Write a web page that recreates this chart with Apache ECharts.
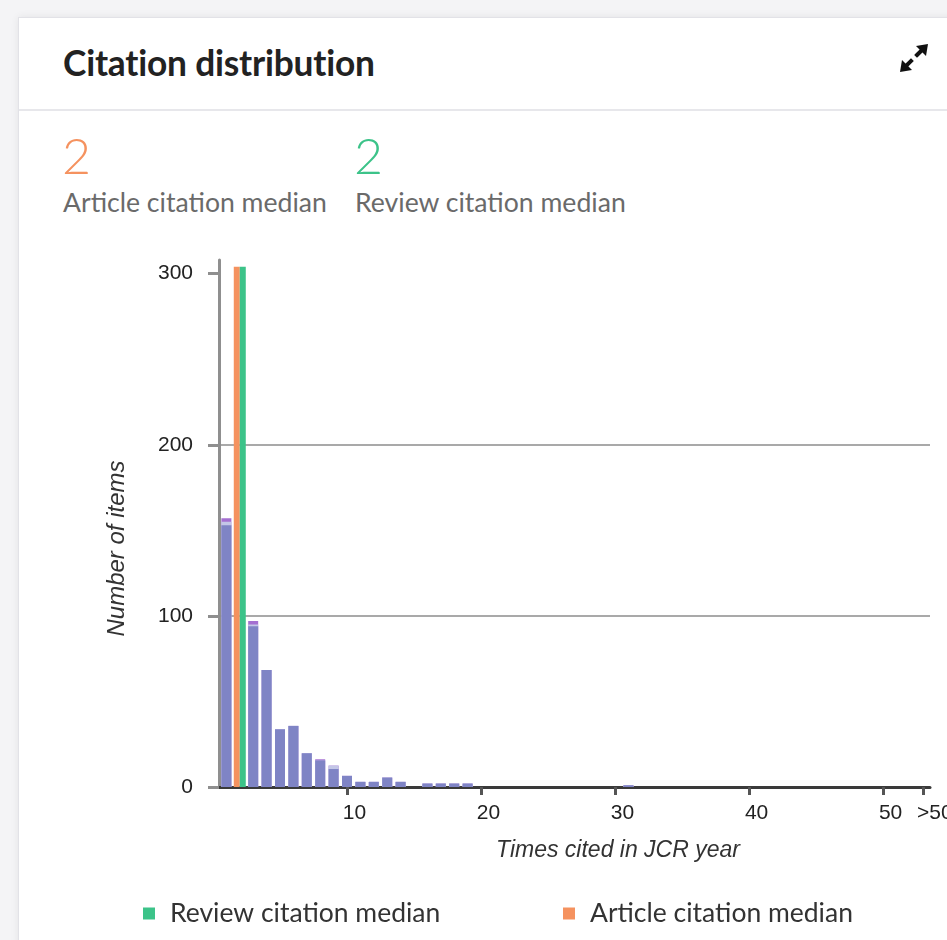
<!DOCTYPE html>
<html>
<head>
<meta charset="utf-8">
<script src="https://cdn.jsdelivr.net/npm/echarts@6/dist/echarts.min.js"></script>
<style>
html,body{margin:0;padding:0;width:947px;height:940px;overflow:hidden;background:#f4f4f6;font-family:Lato,"Open Sans",sans-serif;}
#card{position:absolute;left:18px;top:17px;width:1000px;height:1000px;background:#fff;border:1px solid #e2e2e7;box-shadow:0 0 8px rgba(0,0,0,0.07);}
#divider{position:absolute;left:19px;top:109px;width:1000px;height:2px;background:#e7e7eb;}
.t{position:absolute;white-space:nowrap;line-height:1;}
#title{left:63px;top:45px;font-size:35.3px;font-weight:700;color:#222;letter-spacing:-0.2px;}
.num{top:130px;font-size:50px;font-weight:300;}
#numA{left:62px;color:#f5925f;}
#numR{left:354px;color:#3cc389;}
.lab{top:189px;font-size:26.6px;color:#6a6a6a;}
#labA{left:63px;}
#labR{left:355px;}
#icon{position:absolute;left:894px;top:38px;width:40px;height:40px;}
#chart{position:absolute;left:0;top:0;width:947px;height:940px;}
</style>
</head>
<body>
<div id="card"></div>
<div id="divider"></div>
<div class="t" id="title">Citation distribution</div>
<div class="t num" id="numA">2</div>
<div class="t num" id="numR">2</div>
<div class="t lab" id="labA">Article citation median</div>
<div class="t lab" id="labR">Review citation median</div>
<svg id="icon" viewBox="0 0 40 40">
  <path d="M22 8 L34 6 L32 18 Z" fill="#111"/>
  <path d="M18 32 L6 34 L8 22 Z" fill="#111"/>
  <path d="M30 10 L23 17 M10 30 L17 23" stroke="#111" stroke-width="4" stroke-linecap="square"/>
</svg>
<div id="chart"></div>
<script>
// Times cited in JCR year: 1 .. 50
const timesCited = [1,2,3,4,5,6,7,8,9,10,11,12,13,14,15,16,17,18,19,20,21,22,23,24,25,26,27,28,29,30,31,32,33,34,35,36,37,38,39,40,41,42,43,44,45,46,47,48,49,50];
const articleCounts = [153,null,94,68.4,33.7,35.7,19.7,15.5,10.5,6.5,3,3,5.5,3,0,2,2,2,2,0,0,0,0,0,0,0,0,0,0,0,1,0,0,0,0,0,0,0,0,0,0,0,0,0,0,0,0,0,0,0];
const otherCounts   = [2,null,1,0,0,0,0,0,2,0,0,0,0,0,0,0,0,0,0,0,0,0,0,0,0,0,0,0,0,0,0,0,0,0,0,0,0,0,0,0,0,0,0,0,0,0,0,0,0,0];
const reviewCounts  = [2,null,2,0,0,0,0,0.7,0,0,0,0,0,0,0,0,0,0,0,0,0,0,0,0,0,0,0,0,0,0,0,0,0,0,0,0,0,0,0,0,0,0,0,0,0,0,0,0,0];
const articleMedian = 2;
const reviewMedian = 2;
const medianBarTop = 304;
const xTickValues = [10,20,30,40,50,53];
const xTickLabels = ['10','20','30','40','50','>50'];
const yTickValues = [0,100,200,300];
const gridLineValues = [100,200];

// cumulative tops so the three parts overlap as one stacked bar
const sumAt = (arrs, i) => arrs[0][i] == null ? null : arrs.reduce((s, a) => s + (a[i] || 0), 0);
const pairsOf = arrs => timesCited.map((c, i) => [c, sumAt(arrs, i)]);

const chart = echarts.init(document.getElementById('chart'));
const tickFont = 'Liberation Sans, Arial, sans-serif';
const hiddenX = {type:'value', min:0.45, max:53.5, show:false};
const legendText = {fontSize:26.5, color:'#333', fontFamily:'Lato, sans-serif', padding:[0,0,0,10]};
chart.setOption({
  animation:false,
  grid:{left:219, right:17, top:260, bottom:153, containLabel:false, outerBoundsMode:'none'},
  legend:[
    {data:['Review citation median'], left:143, top:900, padding:0, icon:'rect', itemWidth:12, itemHeight:12, selectedMode:false, textStyle:legendText},
    {data:['Article citation median'], left:563, top:900, padding:0, icon:'rect', itemWidth:12, itemHeight:12, selectedMode:false, textStyle:legendText}
  ],
  xAxis:[{
    type:'value', min:0.45, max:53.5,
    axisLine:{show:true, lineStyle:{color:'#3a3a3a', width:3}},
    axisTick:{show:true, customValues:xTickValues, length:8, lineStyle:{color:'#555', width:3}},
    axisLabel:{customValues:xTickValues,
      formatter:v => { const s = xTickLabels[xTickValues.indexOf(v)]; return s === '>50' ? '{gt|' + s + '}' : s; },
      rich:{gt:{fontSize:21, color:'#222', fontFamily:tickFont, padding:[0,0,0,8]}},
      margin:16, padding:[0,0,0,15], fontSize:21, color:'#222', fontFamily:tickFont},
    splitLine:{show:false},
    name:'Times cited in JCR year', nameLocation:'middle', nameGap:52,
    nameTextStyle:{fontStyle:'italic', fontSize:23, color:'#333', fontFamily:tickFont, padding:[0,0,0,87]}
  }, hiddenX],
  yAxis:{
    type:'value', min:0, max:308, interval:100,
    axisLine:{show:true, lineStyle:{color:'#8f8f8f', width:3}},
    axisTick:{show:true, customValues:yTickValues, length:11, lineStyle:{color:'#8f8f8f', width:3}},
    axisLabel:{customValues:yTickValues, margin:26, fontSize:21, color:'#222', fontFamily:tickFont},
    splitLine:{show:false},
    name:'Number of items', nameLocation:'middle', nameGap:90,
    nameTextStyle:{fontStyle:'italic', fontSize:24, color:'#333', fontFamily:tickFont, padding:[0,50,0,0]}
  },
  series:[
    {name:'Reviews', type:'bar', barWidth:10, barGap:'-100%', data:pairsOf([articleCounts, otherCounts, reviewCounts]), itemStyle:{color:'#a46fd1'},
     markLine:{silent:true, z:1, symbol:['none','none'], label:{show:false}, lineStyle:{color:'#8c8c8c', width:1.5, type:'solid'},
               data:gridLineValues.map(v => ({yAxis:v}))}},
    {name:'Other', type:'bar', barWidth:10, barGap:'-100%', data:pairsOf([articleCounts, otherCounts]), itemStyle:{color:'#c3c6e7'}},
    {name:'Articles', type:'bar', barWidth:10, barGap:'-100%', data:pairsOf([articleCounts]), itemStyle:{color:'#7f84c5'}},
    {name:'Article citation median', type:'bar', xAxisIndex:1, barWidth:6, barGap:'0%', data:[[articleMedian, medianBarTop]], itemStyle:{color:'#f5925f'}},
    {name:'Review citation median', type:'bar', xAxisIndex:1, barWidth:6, barGap:'0%', data:[[reviewMedian, medianBarTop]], itemStyle:{color:'#3cc389'}}
  ]
});
</script>
</body>
</html>
